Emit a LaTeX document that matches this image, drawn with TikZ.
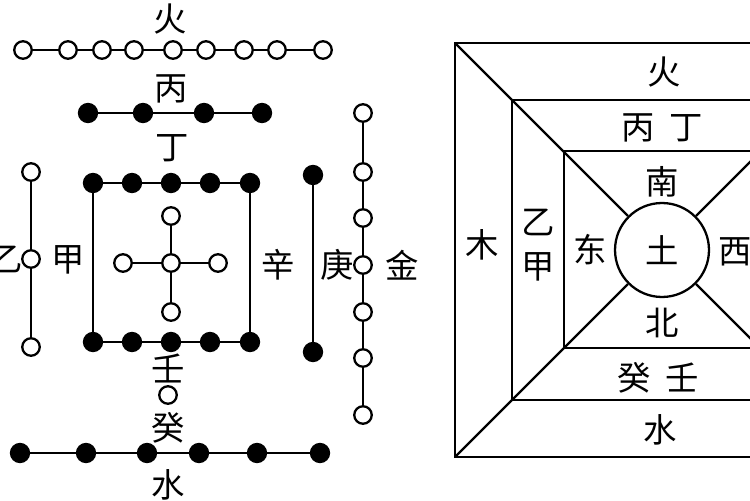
\documentclass[tikz,border=0pt]{standalone}
\usepackage{fontspec}
\newfontfamily\cjk{Noto Sans CJK SC}
\usepackage{tikz}

\begin{document}
\begin{tikzpicture}[x=0.02cm, y=-0.02cm, line width=1.3pt,
    wdot/.style={draw, circle, fill=white, minimum size=0.35cm, inner sep=0pt},
    bdot/.style={draw, circle, fill=black, minimum size=0.36cm, inner sep=0pt},
    lbl/.style={font=\cjk\fontsize{19}{25}\selectfont, inner sep=0pt, align=center}]
    \useasboundingbox (0, 0) rectangle (750, 500);
    \clip (0, 0) rectangle (750, 500);

    % nodes: fire row
    \node[wdot] (f1) at (23, 50) {};
    \node[wdot] (f2) at (68, 50) {};
    \node[wdot] (f3) at (102, 50) {};
    \node[wdot] (f4) at (134, 50) {};
    \node[wdot] (f5) at (173, 50) {};
    \node[wdot] (f6) at (206, 50) {};
    \node[wdot] (f7) at (244, 50) {};
    \node[wdot] (f8) at (277, 50) {};
    \node[wdot] (f9) at (323, 50) {};
    % nodes: second row
    \node[bdot] (s1) at (88, 113) {};
    \node[bdot] (s2) at (143, 113) {};
    \node[bdot] (s3) at (204, 113) {};
    \node[bdot] (s4) at (262, 113) {};
    % nodes: square top and bottom
    \node[bdot] (t1) at (93, 183) {};
    \node[bdot] (t2) at (132, 183) {};
    \node[bdot] (t3) at (171, 183) {};
    \node[bdot] (t4) at (210, 183) {};
    \node[bdot] (t5) at (250, 183) {};
    \node[bdot] (b1) at (93, 342) {};
    \node[bdot] (b2) at (132, 342) {};
    \node[bdot] (b3) at (171, 342) {};
    \node[bdot] (b4) at (210, 342) {};
    \node[bdot] (b5) at (250, 342) {};
    % nodes: centre cross
    \node[wdot] (cn) at (171, 216) {};
    \node[wdot] (cc) at (171, 263) {};
    \node[wdot] (cw) at (123, 263) {};
    \node[wdot] (ce) at (218, 263) {};
    \node[wdot] (cs) at (171, 312) {};
    % nodes: left column
    \node[wdot] (l1) at (31, 172) {};
    \node[wdot] (l2) at (31, 259) {};
    \node[wdot] (l3) at (31, 347) {};
    % nodes: right columns
    \node[bdot] (r1) at (313, 175) {};
    \node[bdot] (r2) at (313, 352) {};
    \node[wdot] (m1) at (363, 113) {};
    \node[wdot] (m2) at (363, 172) {};
    \node[wdot] (m3) at (363, 218) {};
    \node[wdot] (m4) at (363, 265) {};
    \node[wdot] (m5) at (363, 312) {};
    \node[wdot] (m6) at (363, 358) {};
    \node[wdot] (m7) at (363, 415) {};
    % nodes: water
    \node[wdot] (w0) at (168, 395) {};
    \node[bdot] (w1) at (20, 453) {};
    \node[bdot] (w2) at (86, 453) {};
    \node[bdot] (w3) at (147, 453) {};
    \node[bdot] (w4) at (199, 453) {};
    \node[bdot] (w5) at (257, 453) {};
    \node[bdot] (w6) at (320, 453) {};

    % edges: rows and columns
    \draw (f1) -- (f2) -- (f3) -- (f4) -- (f5) -- (f6) -- (f7) -- (f8) -- (f9);
    \draw (s1) -- (s2) -- (s3) -- (s4);
    \draw (t1) -- (t2) -- (t3) -- (t4) -- (t5) -- (b5) -- (b4) -- (b3) -- (b2) -- (b1) -- (t1);
    \draw (cn) -- (cc) -- (cs);
    \draw (cw) -- (cc) -- (ce);
    \draw (l1) -- (l2) -- (l3);
    \draw (r1) -- (r2);
    \draw (m1) -- (m2) -- (m3) -- (m4) -- (m5) -- (m6) -- (m7);
    \draw (w1) -- (w2) -- (w3) -- (w4) -- (w5) -- (w6);

    % labels: left figure
    \node[lbl] (huo) at (170, 19) {火};
    \node[lbl] (bing) at (171, 89) {丙};
    \node[lbl] (ding) at (172, 148) {丁};
    \node[lbl] (yi) at (6, 259) {乙};
    \node[lbl] (jia) at (68, 260) {甲};
    \node[lbl] (xin) at (278, 265) {辛};
    \node[lbl] (geng) at (337, 265) {庚};
    \node[lbl] (jin) at (402, 265) {金};
    \node[lbl] (ren) at (168, 368) {壬};
    \node[lbl] (gui) at (168, 428) {癸};
    \node[lbl] (shui) at (168, 485) {水};

    % right figure: squares, diagonals, centre
    \coordinate (o1) at (455, 43);
    \coordinate (o2) at (869, 43);
    \coordinate (o3) at (869, 457);
    \coordinate (o4) at (455, 457);
    \coordinate (p1) at (512, 100);
    \coordinate (p3) at (812, 400);
    \coordinate (q1) at (564, 151);
    \coordinate (q3) at (760, 348);
    \node[draw, circle, minimum size=1.88cm, inner sep=0pt] (tu) at (662, 250) {};
    \draw (o1) rectangle (o3);
    \draw (p1) rectangle (p3);
    \draw (q1) rectangle (q3);
    \draw (o1) -- (tu);
    \draw (o2) -- (tu);
    \draw (o3) -- (tu);
    \draw (o4) -- (tu);

    % labels: right figure
    \node[lbl] at (tu) {土};
    \node[lbl] (rhuo) at (664, 72) {火};
    \node[lbl] (rbd) at (662, 128) {丙\hspace{0.3cm}丁};
    \node[lbl] (nan) at (662, 182) {南};
    \node[lbl] (mu) at (482, 245) {木};
    \node[lbl] (ryj) at (538, 245) {乙\\甲};
    \node[lbl] (dong) at (590, 250) {东};
    \node[lbl] (xi) at (735, 252) {西};
    \node[lbl] (bei) at (662, 323) {北};
    \node[lbl] (rgr) at (658, 378) {癸\hspace{0.3cm}壬};
    \node[lbl] (rshui) at (660, 430) {水};
\end{tikzpicture}
\end{document}
